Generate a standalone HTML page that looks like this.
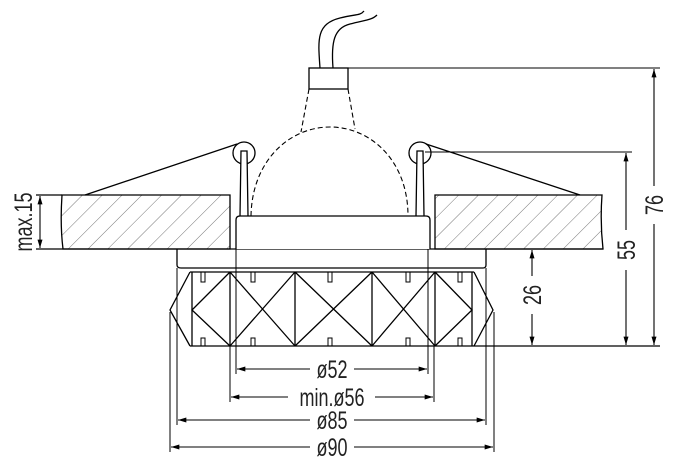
<!DOCTYPE html>
<html><head><meta charset="utf-8"><style>
html,body{margin:0;padding:0;background:#fff;}
svg{display:block;}
text{font-family:"Liberation Sans",sans-serif;font-size:25px;fill:#222;}
</style></head><body>
<svg width="681" height="471" viewBox="0 0 681 471" xmlns="http://www.w3.org/2000/svg">
<defs>
<pattern id="h" patternUnits="userSpaceOnUse" width="14" height="14" patternTransform="rotate(45)">
<line x1="0" y1="0" x2="0" y2="14" stroke="#555" stroke-width="0.8"/>
</pattern>
<marker id="a" viewBox="0 0 10 6" refX="10" refY="3" markerWidth="12" markerHeight="5" markerUnits="userSpaceOnUse" orient="auto-start-reverse"><path d="M0,0L10,3L0,6z" fill="#000"/></marker>
</defs>
<g stroke="#000" fill="none" stroke-width="1.3">
<path d="M62,195 H230 V249 H63 Q60,225 62,195z" fill="url(#h)"/>
<path d="M435,195 H602 Q600,222 603,249 H435z" fill="url(#h)"/>
<line x1="36" y1="249" x2="603" y2="249"/>
<line x1="36" y1="195" x2="62" y2="195"/>
<path d="M320,68 C318,40 316,24 340,18 C355,14 360,16 364,11"/>
<path d="M333,68 C331,42 334,28 350,24 C365,20 372,20 377,15"/>
<rect x="309" y="68" width="39" height="21" fill="#fff"/>
<line x1="348" y1="68" x2="660" y2="68" stroke-width="1"/>
<g stroke-dasharray="5,3" stroke-width="1.1">
<path d="M309,89 L301,132"/>
<path d="M348,89 L355,129"/>
<path d="M251,216 C252,160 290,127 330,127 C370,127 408,160 408,216"/>
</g>
<circle cx="244" cy="153" r="11" fill="#fff"/>
<circle cx="420" cy="153" r="11" fill="#fff"/>
<path d="M240,216 L241,151 H247 L248,216" fill="#fff"/>
<path d="M416,216 L417,151 H423 L424,216" fill="#fff"/>
<line x1="237" y1="144" x2="85" y2="195"/>
<line x1="426" y1="144" x2="580" y2="195"/>
<line x1="425" y1="152" x2="632" y2="152" stroke-width="1"/>
<path d="M236,249 V220 Q236,216 240,216 H426 Q430,216 430,220 V249" fill="#fff"/>
<path d="M177,249 V265 Q177,268 181,268 H483 Q486,268 486,265 V249"/>
<line x1="190" y1="272" x2="474" y2="272"/>
<line x1="190" y1="346" x2="660" y2="346"/>
<path d="M190,272 L170,310 L190,346"/>
<path d="M474,272 L493,310 L474,346"/>
<line x1="192" y1="272" x2="192" y2="346"/>
<line x1="472" y1="272" x2="472" y2="346"/>
<line x1="230" y1="272" x2="230" y2="346"/>
<line x1="295" y1="272" x2="295" y2="346"/>
<line x1="372" y1="272" x2="372" y2="346"/>
<line x1="435" y1="272" x2="435" y2="346"/>
<path d="M230,272 L192,310 L230,346"/>
<path d="M435,272 L472,310 L435,346"/>
<path d="M230,272 L295,346 M295,272 L230,346"/>
<path d="M295,272 L372,346 M372,272 L295,346"/>
<path d="M372,272 L435,346 M435,272 L372,346"/>
<g stroke-width="1">
<path d="M201,272 V282 H205 V272 M251,272 V282 H255 V272 M328,272 V282 H332 V272 M406,272 V282 H410 V272 M458,272 V282 H462 V272"/>
<path d="M201,346 V338 H205 V346 M251,346 V338 H255 V346 M328,346 V338 H332 V346 M406,346 V338 H410 V346 M458,346 V338 H462 V346"/>
</g>
<g stroke-width="1">
<line x1="170" y1="312" x2="170" y2="452"/>
<line x1="494" y1="312" x2="494" y2="452"/>
<line x1="177" y1="268" x2="177" y2="425"/>
<line x1="486" y1="268" x2="486" y2="425"/>
<line x1="230" y1="346" x2="230" y2="402"/>
<line x1="434" y1="346" x2="434" y2="402"/>
<line x1="236" y1="249" x2="236" y2="374"/>
<line x1="428" y1="249" x2="428" y2="374"/>
</g>
<g stroke-width="1.1">
<line x1="237" y1="369" x2="310" y2="369" marker-start="url(#a)"/><line x1="354" y1="369" x2="427" y2="369" marker-end="url(#a)"/>
<line x1="231" y1="397" x2="288" y2="397" marker-start="url(#a)"/><line x1="375" y1="397" x2="433" y2="397" marker-end="url(#a)"/>
<line x1="178" y1="420" x2="310" y2="420" marker-start="url(#a)"/><line x1="354" y1="420" x2="485" y2="420" marker-end="url(#a)"/>
<line x1="171" y1="447" x2="310" y2="447" marker-start="url(#a)"/><line x1="354" y1="447" x2="493" y2="447" marker-end="url(#a)"/>
<line x1="40" y1="196" x2="40" y2="248" marker-start="url(#a)" marker-end="url(#a)"/>
<line x1="532" y1="250" x2="532" y2="276" marker-start="url(#a)"/><line x1="532" y1="314" x2="532" y2="345" marker-end="url(#a)"/>
<line x1="626" y1="153" x2="626" y2="230" marker-start="url(#a)"/><line x1="626" y1="270" x2="626" y2="345" marker-end="url(#a)"/>
<line x1="654" y1="69" x2="654" y2="186" marker-start="url(#a)"/><line x1="654" y1="224" x2="654" y2="345" marker-end="url(#a)"/>
</g>
</g>
<g>
<text text-anchor="middle" transform="translate(332,378) scale(0.72,1)">ø52</text>
<text text-anchor="middle" transform="translate(332,406) scale(0.72,1)">min.ø56</text>
<text text-anchor="middle" transform="translate(332,429) scale(0.72,1)">ø85</text>
<text text-anchor="middle" transform="translate(332,456) scale(0.72,1)">ø90</text>
<text transform="translate(32,222) rotate(-90) scale(0.72,1)" text-anchor="middle">max.15</text>
<text transform="translate(541,295) rotate(-90) scale(0.72,1)" text-anchor="middle">26</text>
<text transform="translate(635,250) rotate(-90) scale(0.72,1)" text-anchor="middle">55</text>
<text transform="translate(663,205) rotate(-90) scale(0.72,1)" text-anchor="middle">76</text>
</g>
</svg>
</body></html>
